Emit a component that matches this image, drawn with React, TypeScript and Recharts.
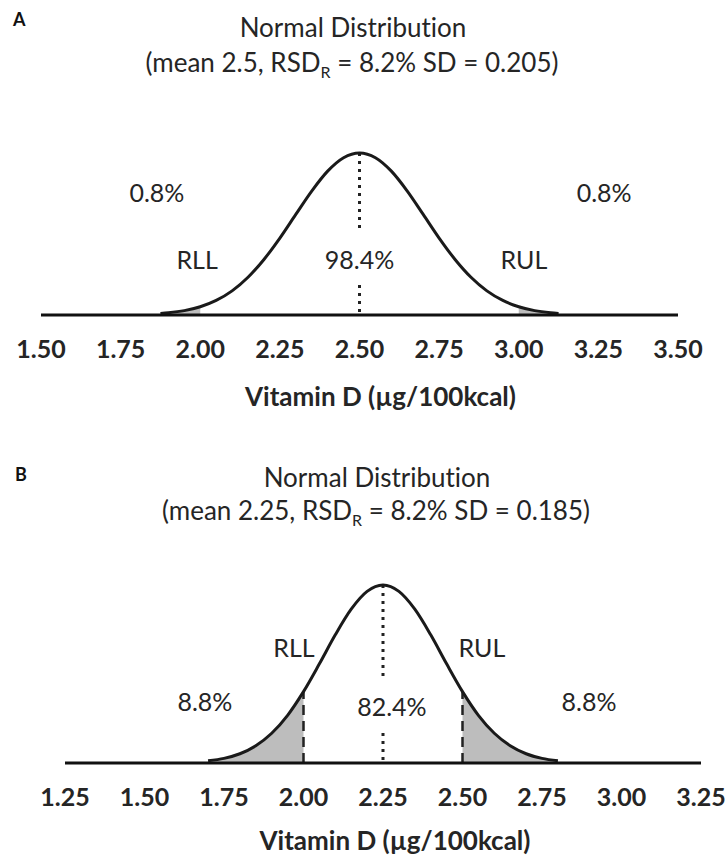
import React from 'react';
import {
  ComposedChart,
  Line,
  Area,
  XAxis,
  YAxis,
  ReferenceLine,
  ReferenceDot,
  Label,
} from 'recharts';

// ---------- Data ----------
// Panel A: Vitamin D values (µg/100kcal) and relative curve heights
const xA = [1.875, 1.9, 1.95, 2.0, 2.05, 2.1, 2.15, 2.2, 2.25, 2.3, 2.35, 2.4, 2.45, 2.5,
  2.55, 2.6, 2.65, 2.7, 2.75, 2.8, 2.85, 2.9, 2.95, 3.0, 3.05, 3.1, 3.125];
const yA = [0.01, 0.014, 0.027, 0.051, 0.09, 0.149, 0.233, 0.343, 0.475, 0.621, 0.765, 0.888, 0.971, 1.0,
  0.971, 0.888, 0.765, 0.621, 0.475, 0.343, 0.233, 0.149, 0.09, 0.051, 0.027, 0.014, 0.01];
const ticksA = [1.5, 1.75, 2.0, 2.25, 2.5, 2.75, 3.0, 3.25, 3.5];
const meanA = 2.5;
const rllA = 2.0;
const rulA = 3.0;

// Panel B
const xB = [1.7, 1.75, 1.8, 1.85, 1.9, 1.95, 2.0, 2.05, 2.1, 2.15, 2.2, 2.25,
  2.3, 2.35, 2.4, 2.45, 2.5, 2.55, 2.6, 2.65, 2.7, 2.75, 2.8];
const yB = [0.012, 0.026, 0.052, 0.097, 0.167, 0.268, 0.401, 0.557, 0.72, 0.864, 0.964, 1.0,
  0.964, 0.864, 0.72, 0.557, 0.401, 0.268, 0.167, 0.097, 0.052, 0.026, 0.012];
const ticksB = [1.25, 1.5, 1.75, 2.0, 2.25, 2.5, 2.75, 3.0, 3.25];
const meanB = 2.25;
const rllB = 2.0;
const rulB = 2.5;

const pctA = ['0.8%', '98.4%', '0.8%'];
const pctB = ['8.8%', '82.4%', '8.8%'];

// ---------- Styles ----------
const FONT = 'Lato, "Open Sans", sans-serif';
const TXT = '#252525';

type PanelProps = {
  xs: number[];
  ys: number[];
  ticks: number[];
  mean: number;
  rll: number;
  rul: number;
  pct: string[];
  width: number;
  height: number;
  margin: { top: number; right: number; left: number; bottom: number };
  axisHeight: number;
  axisLabelDx: number;
  axisLabelOffset: number;
  dashedLimits: boolean;
  gapTop: number;
  gapBottom: number;
  ann: { [k: string]: [number, number] };
};

function Panel(p: PanelProps) {
  const rows = p.xs.map((x, i) => ({
    x,
    y: p.ys[i],
    tailL: x <= p.rll ? p.ys[i] : null,
    tailR: x >= p.rul ? p.ys[i] : null,
  }));
  const yAt = (v: number) => p.ys[p.xs.indexOf(v)];
  const labelStyle = { fill: TXT, fontSize: 25, fontFamily: FONT };
  const dot = (key: string, text: string) => (
    <ReferenceDot
      key={key}
      x={p.ann[key][0]}
      y={p.ann[key][1]}
      r={0}
      fill="none"
      stroke="none"
      ifOverflow="visible"
      label={{ value: text, position: 'center', ...labelStyle }}
    />
  );
  return (
    <ComposedChart width={p.width} height={p.height} data={rows} margin={p.margin}>
      <XAxis
        type="number"
        dataKey="x"
        domain={[p.ticks[0], p.ticks[p.ticks.length - 1]]}
        ticks={p.ticks}
        tickFormatter={(v: number) => v.toFixed(2)}
        tickLine={false}
        tickSize={0}
        tickMargin={25}
        height={p.axisHeight}
        axisLine={{ stroke: '#111', strokeWidth: 3 }}
        tick={{ fill: TXT, fontSize: 25, fontWeight: 700, fontFamily: FONT }}
        allowDataOverflow
      >
        <Label
          value="Vitamin D (µg/100kcal)"
          position="insideBottom"
          offset={p.axisLabelOffset}
          dx={p.axisLabelDx}
          style={{ fill: TXT, fontSize: 26, fontWeight: 700, fontFamily: FONT }}
        />
      </XAxis>
      <YAxis hide domain={[0, 1]} width={0} />
      <Area
        dataKey="tailL"
        type="monotone"
        fill="#bdbdbd"
        fillOpacity={1}
        stroke="none"
        isAnimationActive={false}
        connectNulls={false}
      />
      <Area
        dataKey="tailR"
        type="monotone"
        fill="#bdbdbd"
        fillOpacity={1}
        stroke="none"
        isAnimationActive={false}
        connectNulls={false}
      />
      {p.dashedLimits && (
        <ReferenceLine
          segment={[{ x: p.rll, y: 0 }, { x: p.rll, y: yAt(p.rll) }]}
          stroke="#222"
          strokeWidth={2.5}
          strokeDasharray="10 6"
          ifOverflow="visible"
        />
      )}
      {p.dashedLimits && (
        <ReferenceLine
          segment={[{ x: p.rul, y: 0 }, { x: p.rul, y: yAt(p.rul) }]}
          stroke="#222"
          strokeWidth={2.5}
          strokeDasharray="10 6"
          ifOverflow="visible"
        />
      )}
      <ReferenceLine
        segment={[{ x: p.mean, y: 1 }, { x: p.mean, y: p.gapTop }]}
        stroke="#222"
        strokeWidth={3}
        strokeDasharray="3 5"
        ifOverflow="visible"
      />
      <ReferenceLine
        segment={[{ x: p.mean, y: p.gapBottom }, { x: p.mean, y: 0 }]}
        stroke="#222"
        strokeWidth={3}
        strokeDasharray="3 5"
        ifOverflow="visible"
      />
      <Line
        dataKey="y"
        type="monotone"
        stroke="#1a1a1a"
        strokeWidth={3}
        dot={false}
        activeDot={false}
        isAnimationActive={false}
      />
      {dot('pl', p.pct[0])}
      {dot('pm', p.pct[1])}
      {dot('pr', p.pct[2])}
      {dot('rll', 'RLL')}
      {dot('rul', 'RUL')}
    </ComposedChart>
  );
}

const titleStyle: React.CSSProperties = {
  position: 'absolute',
  textAlign: 'center',
  fontFamily: FONT,
  fontSize: 26,
  lineHeight: '30px',
  color: TXT,
  whiteSpace: 'nowrap',
  fontVariantLigatures: 'none',
};

const letterStyle: React.CSSProperties = {
  position: 'absolute',
  fontFamily: FONT,
  fontWeight: 700,
  fontSize: 18,
  lineHeight: '20px',
  color: '#111',
};

export default function App() {
  return (
    <div style={{ position: 'absolute', left: 0, top: 0, width: 728, height: 858, background: '#fff', overflow: 'hidden' }}>
      {/* Panel A */}
      <div style={{ ...letterStyle, left: 13, top: 9 }}>A</div>
      <div style={{ ...titleStyle, left: 0, width: 706, top: 12 }}>Normal Distribution</div>
      <div style={{ ...titleStyle, left: 0, width: 704, top: 47 }}>
        (mean 2.5, RSD<sub style={{ fontSize: 16, lineHeight: 0 }}>R</sub> = 8.2% SD = 0.205)
      </div>
      <div style={{ position: 'absolute', left: 0, top: 0 }}>
        <Panel
          xs={xA}
          ys={yA}
          ticks={ticksA}
          mean={meanA}
          rll={rllA}
          rul={rulA}
          pct={pctA}
          width={728}
          height={430}
          margin={{ top: 153, right: 50, left: 41, bottom: 0 }}
          axisHeight={115}
          axisLabelDx={21}
          axisLabelOffset={24}
          dashedLimits={false}
          gapTop={0.506}
          gapBottom={0.185}
          ann={{
            pl: [1.864, 0.753],
            pr: [3.268, 0.753],
            pm: [2.5, 0.34],
            rll: [1.99, 0.34],
            rul: [3.016, 0.34],
          }}
        />
      </div>

      {/* Panel B */}
      <div style={{ ...letterStyle, left: 15, top: 464 }}>B</div>
      <div style={{ ...titleStyle, left: 0, width: 754, top: 462 }}>Normal Distribution</div>
      <div style={{ ...titleStyle, left: 0, width: 752, top: 495 }}>
        (mean 2.25, RSD<sub style={{ fontSize: 16, lineHeight: 0 }}>R</sub> = 8.2% SD = 0.185)
      </div>
      <div style={{ position: 'absolute', left: 0, top: 430 }}>
        <Panel
          xs={xB}
          ys={yB}
          ticks={ticksB}
          mean={meanB}
          rll={rllB}
          rul={rulB}
          pct={pctB}
          width={728}
          height={428}
          margin={{ top: 155, right: 27, left: 65, bottom: 0 }}
          axisHeight={95}
          axisLabelDx={12}
          axisLabelOffset={8}
          dashedLimits={true}
          gapTop={0.478}
          gapBottom={0.169}
          ann={{
            pl: [1.69, 0.343],
            pr: [2.898, 0.343],
            pm: [2.278, 0.315],
            rll: [1.97, 0.646],
            rul: [2.561, 0.646],
          }}
        />
      </div>
    </div>
  );
}
